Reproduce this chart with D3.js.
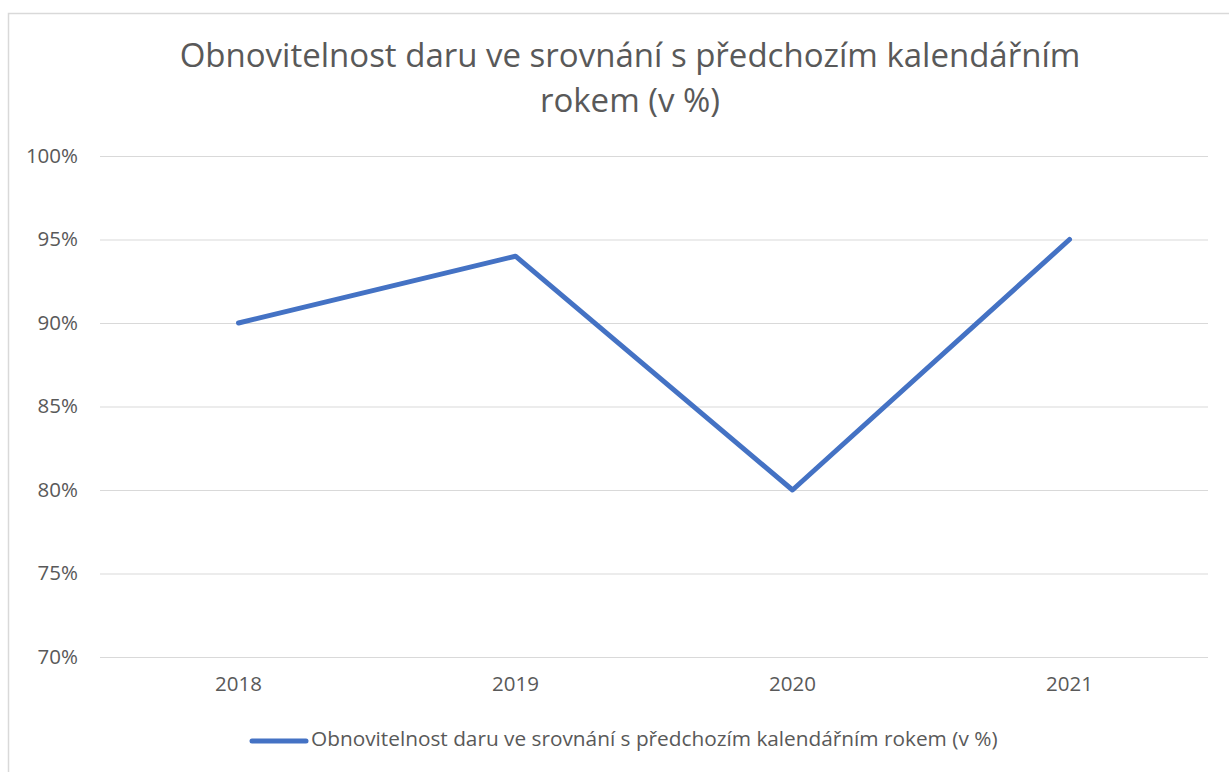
<!DOCTYPE html>
<html>
<head>
<meta charset="utf-8">
<script src="https://cdn.jsdelivr.net/npm/d3@7"></script>
<style>
  body { margin: 0; background: #fff; }
  text { font-family: "Open Sans", "Noto Sans", sans-serif; fill: #595959; }
</style>
</head>
<body>
<div id="chart"></div>
<script>
// data
const years = ["2018", "2019", "2020", "2021"];
const values = [90, 94, 80, 95];
const yTicks = [70, 75, 80, 85, 90, 95, 100];
const titleLines = ["Obnovitelnost daru ve srovnání s předchozím kalendářním", "rokem (v %)"];
const seriesName = "Obnovitelnost daru ve srovnání s předchozím kalendářním rokem (v %)";

const width = 1229, height = 772;
const svg = d3.select("#chart").append("svg")
    .attr("width", width).attr("height", height);

// chart area border
svg.append("rect")
    .attr("x", 8.5).attr("y", 13.5)
    .attr("width", 1240).attr("height", 800)
    .attr("fill", "none")
    .style("stroke", "#d9d9d9")
    .style("stroke-width", 1.5);

const plotLeft = 100, plotRight = 1208, plotTop = 156, plotBottom = 657;

const x = d3.scaleBand().domain(years).range([plotLeft, plotRight]);
const y = d3.scaleLinear().domain([70, 100]).range([plotBottom, plotTop]);

// gridlines
svg.append("g").selectAll("line").data(yTicks).join("line")
    .attr("x1", plotLeft).attr("x2", plotRight)
    .attr("y1", d => y(d) + 0.5).attr("y2", d => y(d) + 0.5)
    .style("stroke", "#d9d9d9").style("stroke-width", 1.2);

// y axis labels
const yAxis = svg.append("g")
    .attr("transform", `translate(${plotLeft - 22},0)`)
    .call(d3.axisLeft(y).tickValues(yTicks).tickSize(0).tickPadding(0).tickFormat(d => d + "%"));
yAxis.select(".domain").remove();
yAxis.attr("font-family", null);
yAxis.selectAll("text").style("font-size", "20.5px").attr("fill", null).attr("dy", "0.3em");

// x axis labels
const xAxis = svg.append("g")
    .attr("transform", `translate(0,${plotBottom + 34})`)
    .call(d3.axisBottom(x).tickSize(0).tickPadding(0));
xAxis.select(".domain").remove();
xAxis.attr("font-family", null);
xAxis.selectAll("text").style("font-size", "20.5px").attr("fill", null).attr("dy", 0);

// the line
const line = d3.line()
    .x((d, i) => x(years[i]) + x.bandwidth() / 2)
    .y(d => y(d));
svg.append("path")
    .datum(values)
    .attr("d", line)
    .attr("fill", "none")
    .style("stroke", "#4472c4")
    .style("stroke-width", 5)
    .style("stroke-linejoin", "round")
    .style("stroke-linecap", "round");

// title
svg.append("g").selectAll("text").data(titleLines).join("text")
    .attr("x", 630)
    .attr("y", (d, i) => 67 + i * 45)
    .attr("text-anchor", "middle")
    .style("font-size", "33px")
    .text(d => d);

// legend
svg.append("line")
    .attr("x1", 252).attr("x2", 306)
    .attr("y1", 741).attr("y2", 741)
    .style("stroke", "#4472c4").style("stroke-width", 5)
    .style("stroke-linecap", "round");
svg.append("text")
    .attr("x", 311).attr("y", 746)
    .style("font-size", "20.8px")
    .text(seriesName);
</script>
</body>
</html>
